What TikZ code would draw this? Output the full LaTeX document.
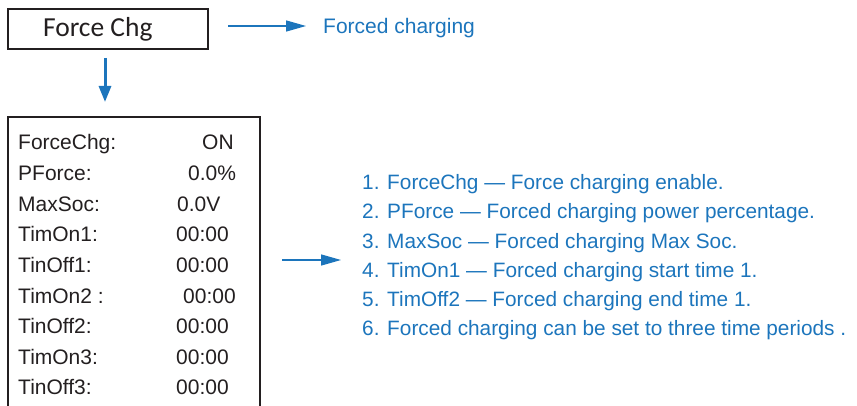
\documentclass[tikz,border=0pt]{standalone}
\usepackage{fontspec}
\setmainfont{Liberation Sans}
\newfontfamily\boxfont{Carlito}
\usetikzlibrary{arrows.meta}
\definecolor{noteblue}{HTML}{1C75BC}
\definecolor{inkgray}{HTML}{231F20}
\tikzset{
  frame/.style={draw=inkgray, line width=1.6pt},
  bluearrow/.style={draw=noteblue, line width=1.3pt, -{Triangle[length=20pt,width=11pt]}},
  downarrow/.style={draw=noteblue, line width=3pt, -{Triangle[length=16pt,width=12pt]}},
  lcdtxt/.style={anchor=base west, inner sep=0pt, text=inkgray, font=\fontsize{21}{25}\selectfont},
  notetxt/.style={anchor=base west, inner sep=0pt, text=noteblue, font=\fontsize{20.8}{25}\selectfont},
}
\begin{document}
\begin{tikzpicture}[x=1pt,y=-1pt]
\useasboundingbox (0,0) rectangle (857,406);
% top box
\node[frame, minimum width=200pt, minimum height=40pt, inner sep=0pt, anchor=north west,
      label={[xshift=-10pt, yshift=-1pt, text=inkgray, font=\boxfont\fontsize{27.5}{33}\selectfont]center:Force Chg}] (fc) at (7,8) {};
\coordinate (a1s) at (228,26);
\coordinate (a1e) at (306,26);
\draw[bluearrow] (a1s) -- (a1e);
\node[anchor=base west, inner sep=0pt, text=noteblue, font=\fontsize{21}{25}\selectfont] (fcn) at (323,34) {Forced charging};
% down arrow
\coordinate (d1s) at (105,58);
\coordinate (d1e) at (105,102);
\draw[downarrow] (d1s) -- (d1e);
% LCD box (open at bottom)
\coordinate (bl) at (8,407);
\coordinate (tl) at (8,117);
\coordinate (tr) at (260,117);
\coordinate (br) at (260,407);
\draw[frame] (bl) -- (tl) -- (tr) -- (br);
% LCD rows
\foreach \lab/\val/\vx [count=\i from 0] in {ForceChg:/ON/202, PForce:/0.0\%/188, MaxSoc:/0.0V/177, TimOn1:/00:00/176, TinOff1:/00:00/176, TimOn2 :/00:00/183, TinOff2:/00:00/176, TimOn3:/00:00/176, TinOff3:/00:00/176}{
  \node[lcdtxt] (l\i) at (18,150+30.6*\i) {\lab};
  \node[lcdtxt] (v\i) at (\vx,150+30.6*\i) {\val};
}
% middle arrow
\coordinate (a2s) at (282,260);
\coordinate (a2e) at (341,260);
\draw[bluearrow] (a2s) -- (a2e);
% notes
\node[notetxt] (n1) at (362,190) {1. ForceChg — Force charging enable.};
\node[notetxt] (n2) at (362,219) {2. PForce — Forced charging power percentage.};
\node[notetxt] (n3) at (362,248) {3. MaxSoc — Forced charging Max Soc.};
\node[notetxt] (n4) at (362,277) {4. TimOn1 — Forced charging start time 1.};
\node[notetxt] (n5) at (362,306) {5. TimOff2 — Forced charging end time 1.};
\node[notetxt] (n6) at (362,335) {6. Forced charging can be set to three time periods .};
\end{tikzpicture}
\end{document}
